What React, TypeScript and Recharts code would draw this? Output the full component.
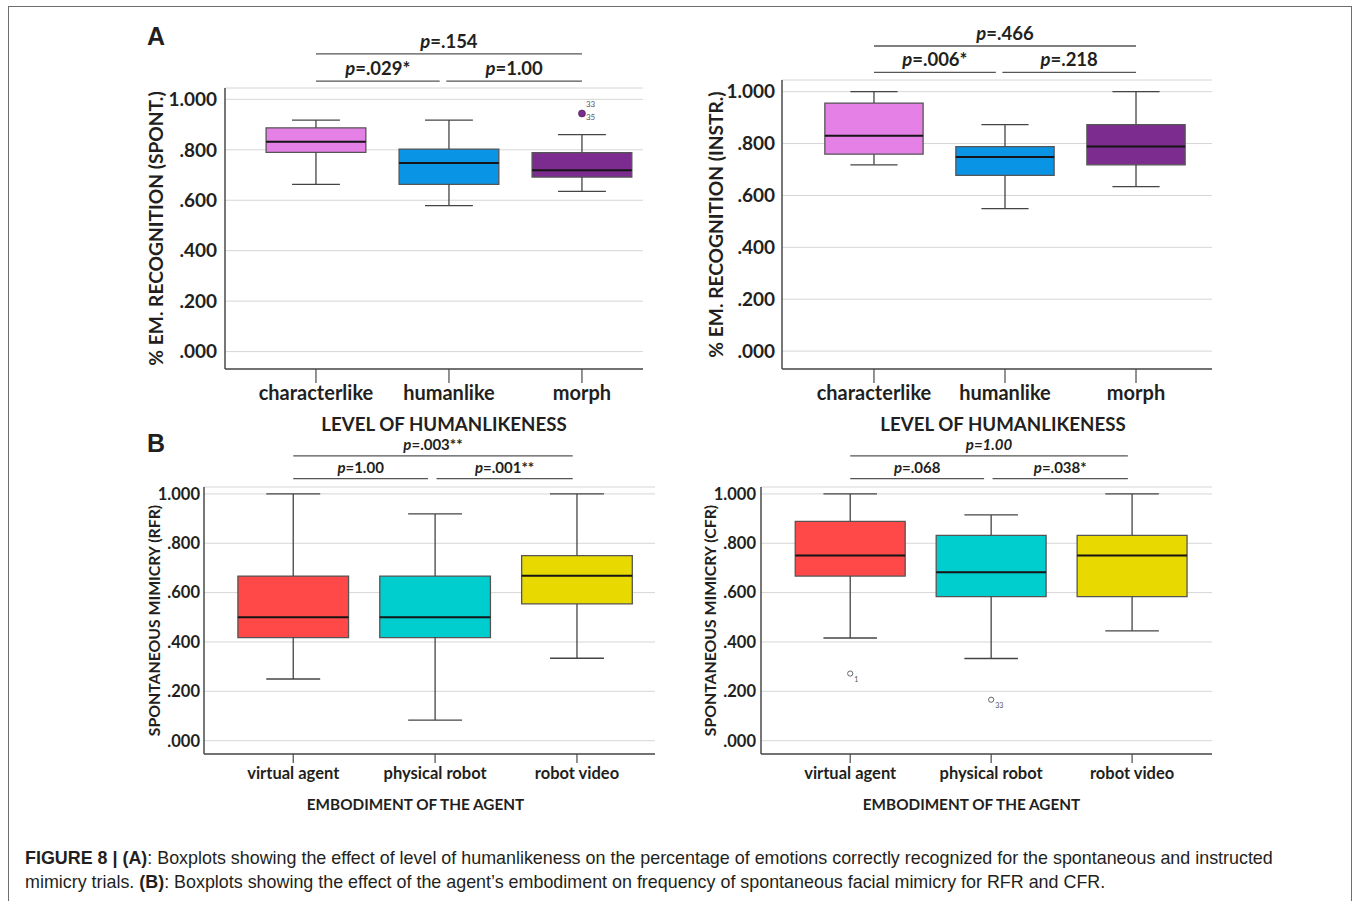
import React from 'react';
import {
  ComposedChart,
  XAxis,
  YAxis,
  CartesianGrid,
  ReferenceArea,
  ReferenceLine,
  Scatter,
} from 'recharts';

const FONT = 'Lato, "Noto Sans", sans-serif';
const INK = '#231f20';

// ---- A: level of humanlikeness ----
const levelCategories = ['characterlike', 'humanlike', 'morph'];
const levelColors = ['#e480e6', '#0994e6', '#7c2c8e'];

const spontMin = [0.663, 0.579, 0.635];
const spontQ1 = [0.79, 0.663, 0.692];
const spontMedian = [0.832, 0.748, 0.719];
const spontQ3 = [0.887, 0.803, 0.789];
const spontMax = [0.918, 0.918, 0.86];
const spontOutliers = [{ x: 3, y: 0.944, ids: ['33', '35'] }];
const spontTests = [
  { a: 0, b: 2, row: 0, p: '.154' },
  { a: 0, b: 1, row: 1, p: '.029*' },
  { a: 1, b: 2, row: 1, p: '1.00' },
];

const instrMin = [0.718, 0.549, 0.634];
const instrQ1 = [0.759, 0.677, 0.718];
const instrMedian = [0.83, 0.748, 0.789];
const instrQ3 = [0.956, 0.788, 0.873];
const instrMax = [1.0, 0.873, 1.0];
const instrOutliers: any[] = [];
const instrTests = [
  { a: 0, b: 2, row: 0, p: '.466' },
  { a: 0, b: 1, row: 1, p: '.006*' },
  { a: 1, b: 2, row: 1, p: '.218' },
];

// ---- B: embodiment of the agent ----
const agentCategories = ['virtual agent', 'physical robot', 'robot video'];
const agentColors = ['#ff4949', '#00cdcd', '#e8d900'];

const rfrMin = [0.25, 0.083, 0.334];
const rfrQ1 = [0.418, 0.418, 0.554];
const rfrMedian = [0.5, 0.5, 0.668];
const rfrQ3 = [0.667, 0.667, 0.75];
const rfrMax = [1.0, 0.919, 1.0];
const rfrOutliers: any[] = [];
const rfrTests = [
  { a: 0, b: 2, row: 0, p: '.003**' },
  { a: 0, b: 1, row: 1, p: '1.00' },
  { a: 1, b: 2, row: 1, p: '.001**' },
];

const cfrMin = [0.416, 0.333, 0.445];
const cfrQ1 = [0.667, 0.584, 0.584];
const cfrMedian = [0.75, 0.683, 0.75];
const cfrQ3 = [0.889, 0.832, 0.832];
const cfrMax = [1.0, 0.915, 1.0];
const cfrOutliers = [
  { x: 1, y: 0.272, ids: ['1'] },
  { x: 2, y: 0.166, ids: ['33'] },
];
const cfrTests = [
  { a: 0, b: 2, row: 0, p: '1.00', italicAll: true },
  { a: 0, b: 1, row: 1, p: '.068' },
  { a: 1, b: 2, row: 1, p: '.038*' },
];

const yTicks = [0, 0.2, 0.4, 0.6, 0.8, 1.0];

const buildBoxes = (cats: string[], min: number[], q1: number[], med: number[], q3: number[], max: number[]) =>
  cats.map((name, i) => ({ x: i + 1, name, min: min[i], q1: q1[i], med: med[i], q3: q3[i], max: max[i] }));

const fmtY = (v: number) => v.toFixed(3).replace(/^0/, '');

const BracketLabel = (text: string, italicAll: boolean, size: number) => (props: any) => {
  const vb = props.viewBox || {};
  const cx = (vb.x || 0) + (vb.width || 0) / 2;
  return (
    <text
      x={cx}
      y={(vb.y || 0) - 6}
      textAnchor="middle"
      fontSize={size}
      fontWeight={700}
      fill={INK}
      fontFamily={FONT}
      fontStyle={italicAll ? 'italic' : 'normal'}
    >
      <tspan fontStyle="italic">p</tspan>
      <tspan>{'=' + text}</tspan>
    </text>
  );
};

const YTitle = (text: string, dx: number, size: number) => (props: any) => {
  const vb = props.viewBox || {};
  const cx = (vb.x || 0) + dx;
  const cy = (vb.y || 0) + (vb.height || 0) / 2;
  return (
    <text
      x={cx}
      y={cy}
      transform={`rotate(-90 ${cx} ${cy})`}
      textAnchor="middle"
      dominantBaseline="central"
      fontSize={size}
      fontWeight={700}
      fill={INK}
      fontFamily={FONT}
    >
      {text}
    </text>
  );
};

const XTitle = (text: string, dx: number, dy: number, size: number) => (props: any) => {
  const vb = props.viewBox || {};
  return (
    <text
      x={(vb.x || 0) + (vb.width || 0) / 2 + dx}
      y={(vb.y || 0) + dy}
      textAnchor="middle"
      dominantBaseline="central"
      fontSize={size}
      fontWeight={700}
      fill={INK}
      fontFamily={FONT}
    >
      {text}
    </text>
  );
};

const OutlierDot = (filled: boolean, color: string) => (props: any) => {
  const { cx, cy, payload } = props;
  if (cx == null || cy == null) return <g />;
  const ids: string[] = payload.ids || [];
  return (
    <g>
      {filled ? (
        <circle cx={cx} cy={cy} r={3.5} fill={color} stroke="#3a1a40" strokeWidth={0.6} />
      ) : (
        <circle cx={cx} cy={cy} r={2.6} fill="none" stroke="#666" strokeWidth={1} />
      )}
      {filled
        ? ids.map((id, i) => (
            <text key={id} x={cx + 4} y={cy - 6 + i * 13} fontSize={8} fill="#555" fontFamily={FONT}>
              {id}
            </text>
          ))
        : ids.map((id) => (
            <text key={id} x={cx + 4} y={cy + 8} fontSize={7} fill="#555" fontFamily={FONT}>
              {id}
            </text>
          ))}
    </g>
  );
};

type PanelProps = {
  left: number;
  top: number;
  width: number;
  height: number;
  mTop: number;
  mRight: number;
  yWidth: number;
  xHeight: number;
  xDomain: [number, number];
  yDomain: [number, number];
  boxes: any[];
  colors: string[];
  outliers: any[];
  filledOutliers: boolean;
  tests: any[];
  bracketY: [number, number];
  gapEnd: number;
  gapStart: number;
  endTrim: number;
  boxHalf: number;
  capHalf: number;
  yTitle: string;
  xTitle: string;
  yTitleDx: number;
  xTitleDx: number;
  xTitleDy: number;
  tickSize: number;
  catSize: number;
  titleSize: number;
  yTitleSize: number;
  pSize: number;
  xTickLen: number;
  xTickGap: number;
  yTickGap: number;
};

const BoxPanel = (p: PanelProps) => {
  const axisColor = '#4a4a4a';
  return (
    <div style={{ position: 'absolute', left: p.left, top: p.top, fontFamily: FONT }}>
      <ComposedChart
        width={p.width}
        height={p.height}
        data={p.boxes}
        margin={{ top: p.mTop, right: p.mRight, bottom: 0, left: 0 }}
      >
        <CartesianGrid horizontal vertical={false} stroke="#d6d6d6" strokeWidth={1} />
        <XAxis
          type="number"
          dataKey="x"
          domain={p.xDomain}
          allowDataOverflow
          ticks={[1, 2, 3]}
          tickFormatter={(v: number) => p.boxes[v - 1]?.name ?? ''}
          height={p.xHeight}
          axisLine={{ stroke: axisColor, strokeWidth: 1.5 }}
          tickLine={{ stroke: axisColor, strokeWidth: 1.2 }}
          tickSize={p.xTickLen}
          tickMargin={p.xTickGap}
          tick={{ fill: INK, fontSize: p.catSize, fontWeight: 700, fontFamily: FONT }}
          interval={0}
          label={XTitle(p.xTitle, p.xTitleDx, p.xTitleDy, p.titleSize)}
        />
        <YAxis
          type="number"
          domain={p.yDomain}
          allowDataOverflow
          ticks={yTicks}
          tickFormatter={fmtY}
          width={p.yWidth}
          axisLine={{ stroke: axisColor, strokeWidth: 1.5 }}
          tickLine={false}
          tickSize={0}
          tickMargin={p.yTickGap}
          tick={{ fill: INK, fontSize: p.tickSize, fontWeight: 700, fontFamily: FONT }}
          label={YTitle(p.yTitle, p.yTitleDx, p.yTitleSize)}
        />
        {p.boxes.map((b) => (
          <ReferenceLine
            key={`wl-${b.x}`}
            segment={[{ x: b.x, y: b.min }, { x: b.x, y: b.q1 }]}
            stroke="#444"
            strokeWidth={1.3}
          />
        ))}
        {p.boxes.map((b) => (
          <ReferenceLine
            key={`wh-${b.x}`}
            segment={[{ x: b.x, y: b.q3 }, { x: b.x, y: b.max }]}
            stroke="#444"
            strokeWidth={1.3}
          />
        ))}
        {p.boxes.map((b) => (
          <ReferenceLine
            key={`cl-${b.x}`}
            segment={[{ x: b.x - p.capHalf, y: b.min }, { x: b.x + p.capHalf, y: b.min }]}
            stroke="#444"
            strokeWidth={1.3}
          />
        ))}
        {p.boxes.map((b) => (
          <ReferenceLine
            key={`ch-${b.x}`}
            segment={[{ x: b.x - p.capHalf, y: b.max }, { x: b.x + p.capHalf, y: b.max }]}
            stroke="#444"
            strokeWidth={1.3}
          />
        ))}
        {p.boxes.map((b, i) => (
          <ReferenceArea
            key={`bx-${b.x}`}
            x1={b.x - p.boxHalf}
            x2={b.x + p.boxHalf}
            y1={b.q1}
            y2={b.q3}
            fill={p.colors[i]}
            fillOpacity={1}
            stroke="#555"
            strokeWidth={1.3}
          />
        ))}
        {p.boxes.map((b) => (
          <ReferenceLine
            key={`md-${b.x}`}
            segment={[{ x: b.x - p.boxHalf, y: b.med }, { x: b.x + p.boxHalf, y: b.med }]}
            stroke="#151515"
            strokeWidth={2}
          />
        ))}
        {p.tests.map((t, i) => {
          const x1 = t.a + 1 + (t.a === 1 ? p.gapStart : 0);
          const x2 = t.b + 1 - (t.b === 1 ? p.gapEnd : 0) - (t.b === 2 ? p.endTrim : 0);
          const y = p.bracketY[t.row];
          return (
            <ReferenceLine
              key={`pt-${i}`}
              segment={[{ x: x1, y }, { x: x2, y }]}
              ifOverflow="visible"
              stroke="#555"
              strokeWidth={1.3}
              label={BracketLabel(t.p, !!t.italicAll, p.pSize)}
            />
          );
        })}
        <Scatter
          data={p.outliers}
          dataKey="y"
          isAnimationActive={false}
          shape={OutlierDot(p.filledOutliers, p.colors[2])}
        />
      </ComposedChart>
    </div>
  );
};

export default function App() {
  const spont = buildBoxes(levelCategories, spontMin, spontQ1, spontMedian, spontQ3, spontMax);
  const instr = buildBoxes(levelCategories, instrMin, instrQ1, instrMedian, instrQ3, instrMax);
  const rfr = buildBoxes(agentCategories, rfrMin, rfrQ1, rfrMedian, rfrQ3, rfrMax);
  const cfr = buildBoxes(agentCategories, cfrMin, cfrQ1, cfrMedian, cfrQ3, cfrMax);

  const aCommon = {
    top: 20,
    height: 420,
    xHeight: 71,
    yDomain: [-0.069, 1.045] as [number, number],
    colors: levelColors,
    filledOutliers: true,
    gapEnd: 0.07,
    gapStart: -0.02,
    endTrim: 0,
    boxHalf: 0.375,
    capHalf: 0.18,
    xTitle: 'LEVEL OF HUMANLIKENESS',
    xTitleDy: 55,
    tickSize: 19,
    catSize: 20,
    titleSize: 18.7,
    yTitleSize: 19.2,
    pSize: 18.5,
    xTickLen: 14,
    xTickGap: 3,
  };

  const bCommon = {
    top: 430,
    height: 390,
    xHeight: 66,
    mTop: 57,
    yDomain: [-0.054, 1.028] as [number, number],
    colors: agentColors,
    filledOutliers: false,
    bracketY: [1.154, 1.062] as [number, number],
    gapEnd: 0.05,
    gapStart: 0.01,
    endTrim: 0.03,
    boxHalf: 0.39,
    capHalf: 0.19,
    xTitle: 'EMBODIMENT OF THE AGENT',
    xTitleDy: 50,
    tickSize: 16.5,
    catSize: 16.5,
    titleSize: 15.3,
    yTitleSize: 15.8,
    pSize: 15,
    xTickLen: 9,
    xTickGap: 4,
  };

  return (
    <div style={{ position: 'relative', width: 1356, height: 901, overflow: 'hidden', background: '#fff' }}>
      <style>{'body{margin:0;background:#fff}'}</style>
      <div
        style={{
          position: 'absolute',
          left: 8,
          top: 6,
          width: 1342,
          height: 920,
          borderTop: '1.5px solid #6e6e6e',
          borderLeft: '1.5px solid #6e6e6e',
          borderRight: '1.5px solid #6e6e6e',
        }}
      />
      <div style={{ position: 'absolute', left: 147, top: 22, fontFamily: '"Liberation Sans", Arial, sans-serif', fontWeight: 700, fontSize: 25, color: INK }}>
        A
      </div>
      <div style={{ position: 'absolute', left: 147, top: 429, fontFamily: '"Liberation Sans", Arial, sans-serif', fontWeight: 700, fontSize: 25, color: INK }}>
        B
      </div>

      <BoxPanel
        {...aCommon}
        left={130}
        width={530}
        mTop={68}
        mRight={17}
        yWidth={95}
        xDomain={[0.316, 3.459]}
        boxes={spont}
        outliers={spontOutliers}
        tests={spontTests}
        bracketY={[1.18, 1.072]}
        yTitle="% EM. RECOGNITION (SPONT.)"
        yTitleDx={25}
        xTitleDx={10}
        yTickGap={8}
      />
      <BoxPanel
        {...aCommon}
        left={690}
        width={540}
        mTop={60}
        mRight={18}
        yWidth={92}
        xDomain={[0.298, 3.58]}
        boxes={instr}
        outliers={instrOutliers}
        tests={instrTests}
        bracketY={[1.176, 1.0745]}
        yTitle="% EM. RECOGNITION (INSTR.)"
        yTitleDx={25}
        xTitleDx={6}
        yTickGap={7}
      />
      <BoxPanel
        {...bCommon}
        left={130}
        width={540}
        mRight={15}
        yWidth={74}
        xDomain={[0.371, 3.55]}
        boxes={rfr}
        outliers={rfrOutliers}
        tests={rfrTests}
        yTitle="SPONTANEOUS MIMICRY (RFR)"
        yTitleDx={23}
        xTitleDx={-14}
        yTickGap={4}
      />
      <BoxPanel
        {...bCommon}
        left={690}
        width={540}
        mRight={18}
        yWidth={71}
        xDomain={[0.367, 3.567]}
        boxes={cfr}
        outliers={cfrOutliers}
        tests={cfrTests}
        yTitle="SPONTANEOUS MIMICRY (CFR)"
        yTitleDx={19}
        xTitleDx={-15}
        yTickGap={5}
      />

      <div
        style={{
          position: 'absolute',
          left: 25,
          top: 846,
          width: 1320,
          fontFamily: '"Liberation Sans", Arial, sans-serif',
          fontSize: 17.9,
          lineHeight: '24px',
          color: INK,
          whiteSpace: 'nowrap',
        }}
      >
        <b>FIGURE 8 | (A)</b>: Boxplots showing the effect of level of humanlikeness on the percentage of emotions correctly recognized for the spontaneous and instructed
        <br />
        mimicry trials. <b>(B)</b>: Boxplots showing the effect of the agent’s embodiment on frequency of spontaneous facial mimicry for RFR and CFR.
      </div>
    </div>
  );
}
